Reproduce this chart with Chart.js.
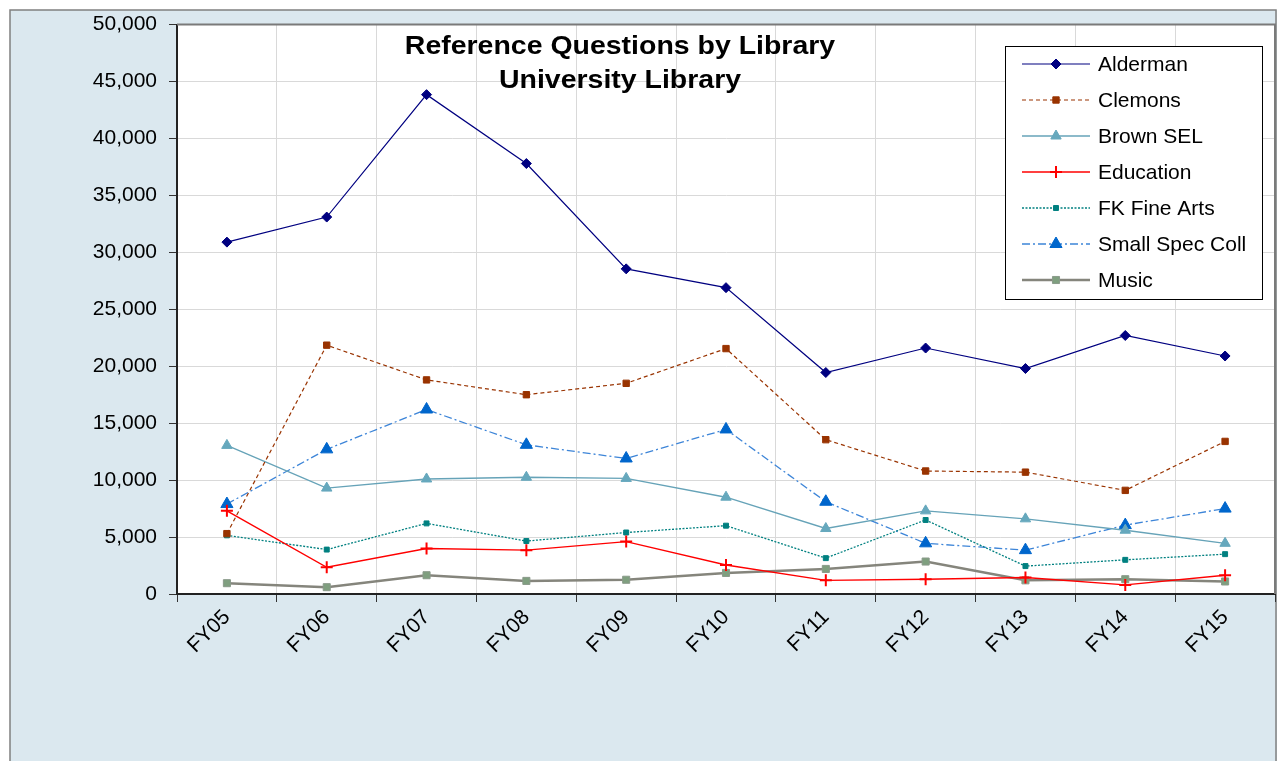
<!DOCTYPE html>
<html>
<head>
<meta charset="utf-8">
<script src="https://cdn.jsdelivr.net/npm/chart.js@4.4.1/dist/chart.umd.min.js"></script>
<style>
html, body { margin: 0; padding: 0; background: #fff; }
#wrap { width: 1278px; height: 761px; }
</style>
</head>
<body>
<div id="wrap"><canvas id="chart" width="1278" height="761"></canvas></div>
<script>
// Data
const years = ['FY05', 'FY06', 'FY07', 'FY08', 'FY09', 'FY10', 'FY11', 'FY12', 'FY13', 'FY14', 'FY15'];
const alderman = [30900, 33100, 43850, 37800, 28550, 26900, 19450, 21600, 19800, 22700, 20900];
const clemons = [5300, 21850, 18800, 17500, 18500, 21550, 13550, 10800, 10700, 9100, 13400];
const brownSel = [13050, 9300, 10100, 10250, 10150, 8500, 5750, 7300, 6600, 5600, 4450];
const education = [7300, 2350, 4000, 3850, 4600, 2550, 1200, 1300, 1450, 800, 1650];
const fkFineArts = [5150, 3900, 6200, 4650, 5400, 6000, 3150, 6500, 2450, 3000, 3500];
const smallSpecColl = [7900, 12700, 16200, 13100, 11900, 14450, 8100, 4450, 3850, 6050, 7500];
const music = [950, 600, 1650, 1150, 1250, 1850, 2200, 2850, 1200, 1300, 1100];

const FONT = '"Liberation Sans", Arial, sans-serif';

// Background frame, white plot area and plot border
const framePlugin = {
    id: 'frame',
    beforeDraw(chart) {
        const ctx = chart.ctx;
        const a = chart.chartArea;
        ctx.save();
        ctx.fillStyle = '#dbe8ef';
        ctx.fillRect(10, 10, 1267, 760);
        ctx.strokeStyle = '#808080';
        ctx.lineWidth = 1.5;
        ctx.strokeRect(10, 10, 1266, 770);
        ctx.fillStyle = '#ffffff';
        ctx.fillRect(a.left, a.top, a.right - a.left, a.bottom - a.top);
        ctx.restore();
    },
    beforeDatasetsDraw(chart) {
        const ctx = chart.ctx;
        const a = chart.chartArea;
        ctx.save();
        ctx.strokeStyle = '#7a7a7a';
        ctx.lineWidth = 2;
        ctx.beginPath();
        ctx.moveTo(a.left, a.top);
        ctx.lineTo(a.right, a.top);
        ctx.lineTo(a.right, a.bottom);
        ctx.stroke();
        ctx.restore();
    }
};

// Title and legend drawn inside the plot, like the original
const overlayPlugin = {
    id: 'overlay',
    afterDraw(chart) {
        const ctx = chart.ctx;
        ctx.save();
        ctx.fillStyle = '#000';
        ctx.font = 'bold 26px ' + FONT;
        ctx.textAlign = 'center';
        ctx.textBaseline = 'middle';
        // the original title is a little wider than the font
        ctx.translate(620, 0);
        ctx.scale(1.095, 1);
        ctx.fillText('Reference Questions by Library', 0, 47);
        ctx.fillText('University Library', 0, 81);
        ctx.setTransform(1, 0, 0, 1, 0, 0);

        // legend box
        ctx.fillStyle = '#fff';
        ctx.fillRect(1005, 46, 257, 253);
        ctx.strokeStyle = '#000';
        ctx.lineWidth = 1;
        ctx.strokeRect(1005.5, 46.5, 257, 253);

        ctx.font = '21px ' + FONT;
        ctx.textAlign = 'left';
        chart.data.datasets.forEach((ds, i) => {
            const y = 64 + i * 36;
            ctx.strokeStyle = ds.borderColor;
            ctx.lineWidth = ds.borderWidth;
            ctx.setLineDash(ds.borderDash || []);
            ctx.beginPath();
            ctx.moveTo(1022, y);
            ctx.lineTo(1090, y);
            ctx.stroke();
            ctx.setLineDash([]);
            ctx.fillStyle = ds.pointBackgroundColor;
            ctx.strokeStyle = ds.pointBorderColor;
            ctx.lineWidth = ds.pointBorderWidth;
            Chart.helpers.drawPoint(ctx, {
                pointStyle: ds.pointStyle,
                radius: ds.pointRadius,
                rotation: 0,
                borderWidth: ds.pointBorderWidth
            }, 1056, y);
            ctx.fillStyle = '#000';
            ctx.fillText(ds.label, 1098, y + 1);
        });
        ctx.restore();
    }
};

function series(label, data, line, dash, width, style, radius, fill, border, bw) {
    return {
        label: label,
        data: data,
        borderColor: line,
        borderWidth: width,
        borderDash: dash,
        pointStyle: style,
        pointRadius: radius,
        pointHoverRadius: radius,
        pointBackgroundColor: fill,
        pointBorderColor: border,
        pointBorderWidth: bw,
        tension: 0,
        fill: false
    };
}

new Chart(document.getElementById('chart'), {
    type: 'line',
    data: {
        labels: years,
        datasets: [
            series('Alderman', alderman, '#000080', [], 1.2, 'rectRot', 5, '#000080', '#000080', 1),
            series('Clemons', clemons, '#993300', [4, 3], 1.2, 'rect', 4.5, '#993300', '#993300', 1),
            series('Brown SEL', brownSel, '#66a3b8', [], 1.4, 'triangle', 6, '#66a8bd', '#66a8bd', 1),
            series('Education', education, '#ff0000', [], 1.4, 'cross', 6, '#ff0000', '#ff0000', 2),
            series('FK Fine Arts', fkFineArts, '#008080', [2, 1.5], 1.3, 'rect', 3.5, '#008080', '#008080', 1),
            series('Small Spec Coll', smallSpecColl, '#3d85d8', [8, 3, 2, 3], 1.3, 'triangle', 7, '#0066cc', '#0066cc', 1),
            series('Music', music, '#85857c', [], 2.5, 'rect', 5, '#7f9f7f', '#8a9a8a', 1)
        ]
    },
    options: {
        responsive: false,
        animation: false,
        devicePixelRatio: 1,
        layout: { autoPadding: false, padding: { top: 23, right: 3, bottom: 0, left: 0 } },
        plugins: {
            legend: { display: false },
            title: { display: false },
            tooltip: { enabled: false }
        },
        scales: {
            x: {
                offset: true,
                grid: { offset: true, color: '#d9d9d9', tickColor: '#333', tickLength: 8 },
                border: { color: '#222', width: 2 },
                ticks: {
                    color: '#000',
                    font: { family: FONT, size: 21 },
                    minRotation: 45,
                    maxRotation: 45,
                    padding: 3
                },
                afterFit(scale) {
                    scale.height = 167;
                }
            },
            y: {
                min: 0,
                max: 50000,
                grid: { color: '#d9d9d9', tickColor: '#333', tickLength: 8 },
                border: { color: '#222', width: 2 },
                ticks: {
                    stepSize: 5000,
                    color: '#000',
                    font: { family: FONT, size: 21 },
                    padding: 12,
                    callback: v => v.toLocaleString('en-US')
                },
                afterFit(scale) {
                    scale.width = 177;
                }
            }
        }
    },
    plugins: [framePlugin, overlayPlugin]
});
</script>
</body>
</html>
